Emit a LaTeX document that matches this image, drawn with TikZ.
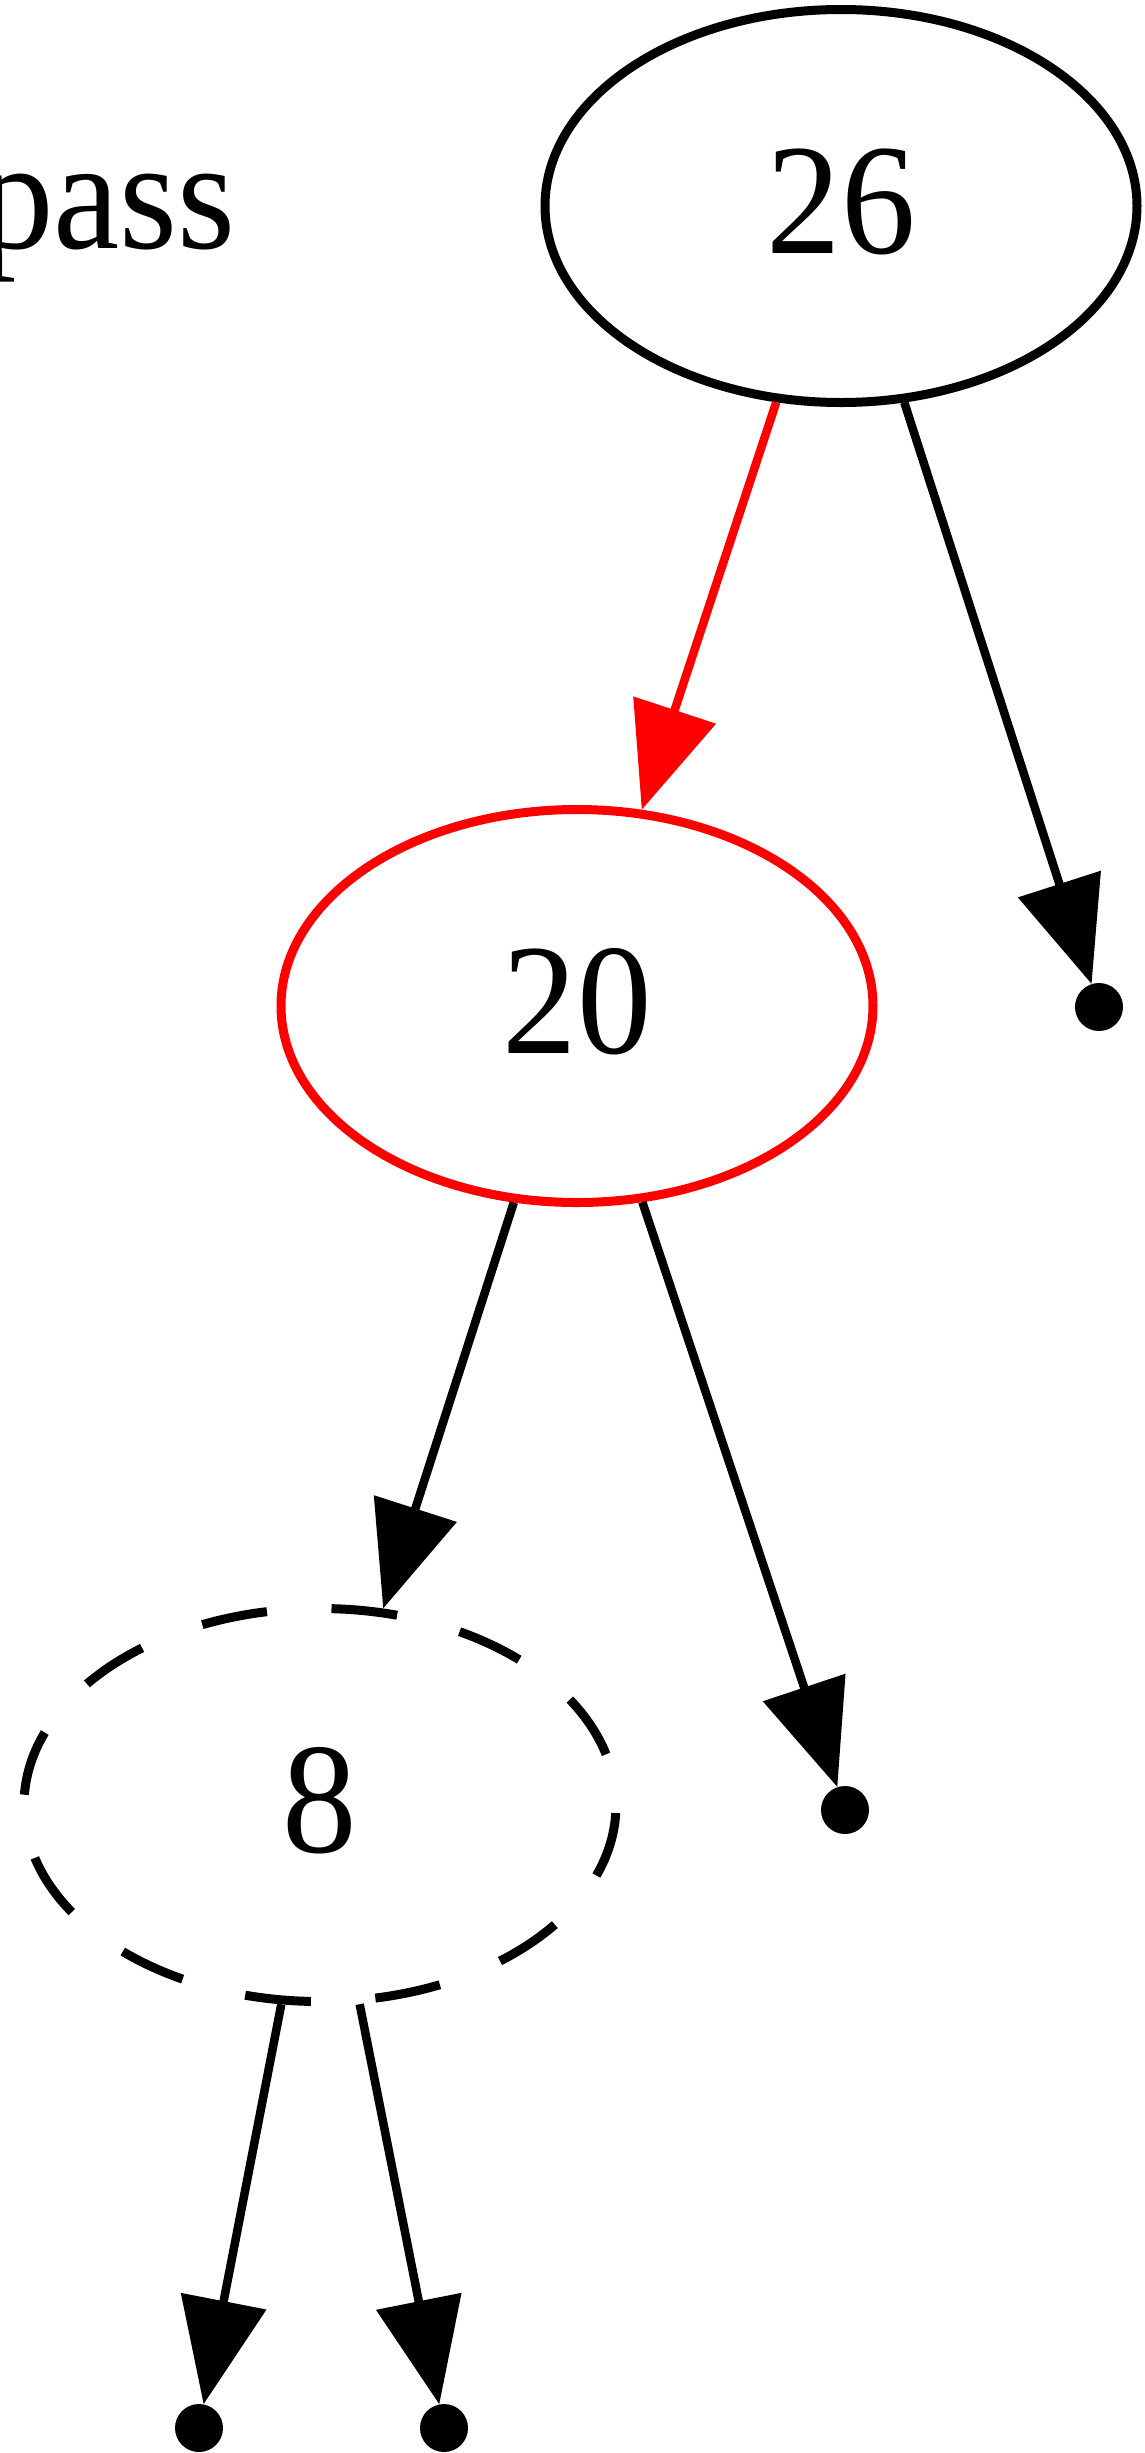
\documentclass[tikz,border=0pt]{standalone}
\usepackage{fontspec}
\usepackage{graphicx}
\setmainfont{Liberation Serif}
\usetikzlibrary{arrows.meta,shapes.geometric}
\definecolor{gvred}{RGB}{255,0,0}
\newcommand{\lbl}[1]{\raisebox{10pt}{\scalebox{0.943}[1]{#1}}}
\tikzset{
  tnode/.style={ellipse, draw, line width=9pt, minimum width=592pt, minimum height=393pt,
    inner sep=0pt, font=\fontsize{158}{160}\selectfont},
  rednode/.style={tnode, draw=gvred},
  dashnode/.style={tnode, dash pattern=on 66pt off 64.66pt, dash phase=78.66pt},
  dotnode/.style={circle, fill=black, inner sep=0pt, minimum size=48pt},
  tedge/.style={line width=8.5pt, -{Triangle[length=105pt,width=85pt]}},
  rededge/.style={tedge, draw=gvred, fill=gvred},
  lbltext/.style={font=\fontsize{158}{160}\selectfont, inner sep=0pt}
}
\begin{document}
\begin{tikzpicture}[x=1pt,y=-1pt]
  \useasboundingbox (0,0) rectangle (1145,2453);
  \fill[white] (0,0) rectangle (1145,2453);
  \node[lbltext, anchor=base east] (title) at (236,248) {\scalebox{0.943}[1]{pass}};
  \node[tnode] (n26) at (841,206) {\lbl{26}};
  \node[rednode] (n20) at (577,1006) {\lbl{20}};
  \node[dashnode] (n8) at (320,1805) {\lbl{8}};
  \node[dotnode] (p1) at (1099,1007) {};
  \node[dotnode] (p2) at (845,1810) {};
  \node[dotnode] (p3) at (199,2428) {};
  \node[dotnode] (p4) at (444,2428) {};
  \draw[rededge] (n26) -- (n20);
  \draw[tedge] (n26) -- (p1);
  \draw[tedge] (n20) -- (n8);
  \draw[tedge] (n20) -- (p2);
  \draw[tedge] (n8) -- (p3);
  \draw[tedge] (n8) -- (p4);
\end{tikzpicture}
\end{document}
